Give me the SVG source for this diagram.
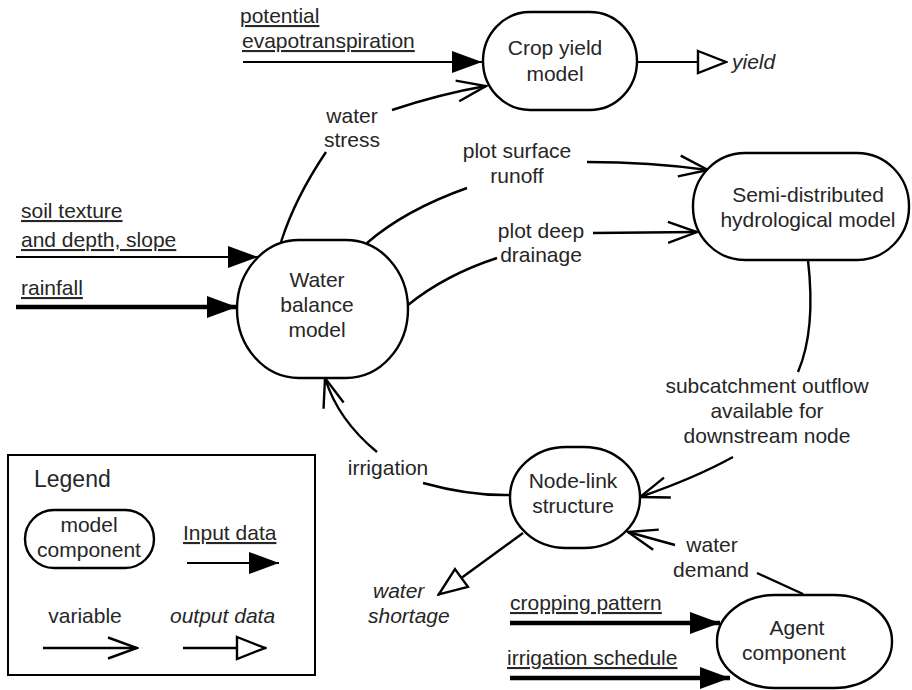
<svg xmlns="http://www.w3.org/2000/svg" width="912" height="690" viewBox="0 0 912 690">
<style>
text{font-family:"Liberation Sans",Arial,sans-serif;font-size:21px;fill:#262626}
.c{text-anchor:middle}
.u{text-decoration:underline}
.i{font-style:italic}
.node{fill:#fff;stroke:#000;stroke-width:2.4}
.ln{fill:none;stroke:#000;stroke-width:2.4}
.thin{fill:none;stroke:#000;stroke-width:2}
.thick{fill:none;stroke:#000;stroke-width:4.5}
</style>
<defs>
<marker id="inHead" markerUnits="userSpaceOnUse" viewBox="0 0 30 22" refX="30" refY="11" markerWidth="30" markerHeight="22" orient="auto">
<path d="M0,0 L30,11 L0,22 Z" fill="#000"/>
</marker>
<marker id="outHead" markerUnits="userSpaceOnUse" viewBox="0 0 32 26" refX="31" refY="13" markerWidth="32" markerHeight="26" orient="auto">
<path d="M2,2 L30,13 L2,24 Z" fill="#fff" stroke="#000" stroke-width="2.4"/>
</marker>
<marker id="varHead" markerUnits="userSpaceOnUse" viewBox="0 0 32 24" refX="30" refY="12" markerWidth="32" markerHeight="24" orient="auto">
<path d="M1,1.5 L30,12 L1,22.5" fill="none" stroke="#000" stroke-width="2.4"/>
</marker>
</defs>

<g id="connectors">
<path class="thin" d="M243,62 H482" marker-end="url(#inHead)"/>
<path class="ln" d="M281,242 Q295,198 326,152"/>
<path class="ln" d="M392,110 Q440,94 486,86" marker-end="url(#varHead)"/>
<path class="thin" d="M16,257 H258" marker-end="url(#inHead)"/>
<path class="thick" d="M16,307 H237" marker-end="url(#inHead)"/>
<path class="ln" d="M367,243 Q405,210 467,188"/>
<path class="ln" d="M587,162 Q650,162 708,170" marker-end="url(#varHead)"/>
<path class="ln" d="M408,305 Q445,275 497,258"/>
<path class="ln" d="M593,233 L697,232" marker-end="url(#varHead)"/>
<path class="ln" d="M808,260 Q816,330 798,372"/>
<path class="ln" d="M733,457 Q695,478 640,497" marker-end="url(#varHead)"/>
<path class="ln" d="M510,495 Q470,496 423,483"/>
<path class="ln" d="M377,452 Q338,420 325,378" marker-end="url(#varHead)"/>
<path class="ln" d="M523,533 L438,595" marker-end="url(#outHead)"/>
<path class="ln" d="M803,594 L757,573"/>
<path class="ln" d="M675,545 L628,532" marker-end="url(#varHead)"/>
<path class="thick" d="M510,623 H720" marker-end="url(#inHead)"/>
<path class="thick" d="M510,678 H730" marker-end="url(#inHead)"/>
<path class="thin" d="M637,62 H727" marker-end="url(#outHead)"/>
</g>

<g id="labels">
<text x="240" y="23" class="u">potential</text>
<text x="242" y="48" class="u">evapotranspiration</text>
<text x="352" y="123" class="c">water</text>
<text x="352" y="147" class="c">stress</text>
<text x="21" y="218" class="u">soil texture</text>
<text x="21" y="247" class="u">and depth, slope</text>
<text x="21" y="295" class="u">rainfall</text>
<text x="517" y="158" class="c">plot surface</text>
<text x="517" y="183" class="c">runoff</text>
<text x="541" y="238" class="c">plot deep</text>
<text x="541" y="262" class="c">drainage</text>
<text x="767" y="393" class="c">subcatchment outflow</text>
<text x="767" y="418" class="c">available for</text>
<text x="767" y="443" class="c">downstream node</text>
<text x="388" y="475" class="c">irrigation</text>
<text x="373" y="598" class="i">water</text>
<text x="368" y="623" class="i">shortage</text>
<text x="712" y="552" class="c">water</text>
<text x="711" y="577" class="c">demand</text>
<text x="510" y="610" class="u">cropping pattern</text>
<text x="507" y="665" class="u">irrigation schedule</text>
<text x="732" y="69" class="i">yield</text>
</g>

<g id="crop-yield-model">
<rect class="node" x="483" y="12" width="154" height="98" rx="47" ry="49"/>
<text x="555" y="55" class="c">Crop yield</text>
<text x="555" y="81" class="c">model</text>
</g>

<g id="water-balance-model">
<rect class="node" x="237" y="240" width="171" height="138" rx="62" ry="69"/>
<text x="317" y="287" class="c">Water</text>
<text x="317" y="312" class="c">balance</text>
<text x="317" y="337" class="c">model</text>
</g>

<g id="semi-distributed-hydrological-model">
<rect class="node" x="693" y="153" width="216" height="107" rx="52" ry="53"/>
<text x="808" y="202" class="c">Semi-distributed</text>
<text x="808" y="227" class="c">hydrological model</text>
</g>

<g id="node-link-structure">
<rect class="node" x="510" y="447" width="130" height="101" rx="56" ry="50"/>
<text x="573" y="488" class="c">Node-link</text>
<text x="573" y="513" class="c">structure</text>
</g>

<g id="agent-component">
<rect class="node" x="717" y="595" width="175" height="93" rx="58" ry="46"/>
<text x="797" y="635" class="c">Agent</text>
<text x="794" y="660" class="c">component</text>
</g>

<g id="legend">
<rect x="8" y="455" width="307" height="220" fill="#fff" stroke="#000" stroke-width="2"/>
<text x="34" y="487" style="font-size:23px">Legend</text>
<rect class="node" x="25" y="510" width="129" height="58" rx="29" ry="29"/>
<text x="89" y="532" class="c">model</text>
<text x="89" y="557" class="c">component</text>
<text x="183" y="540" class="u">Input data</text>
<path class="thin" d="M187,563 H279" marker-end="url(#inHead)"/>
<text x="85" y="623" class="c">variable</text>
<path class="ln" d="M43,648 H137" marker-end="url(#varHead)"/>
<text x="170" y="623" class="i">output data</text>
<path class="ln" d="M183,648 H266" marker-end="url(#outHead)"/>
</g>
</svg>
